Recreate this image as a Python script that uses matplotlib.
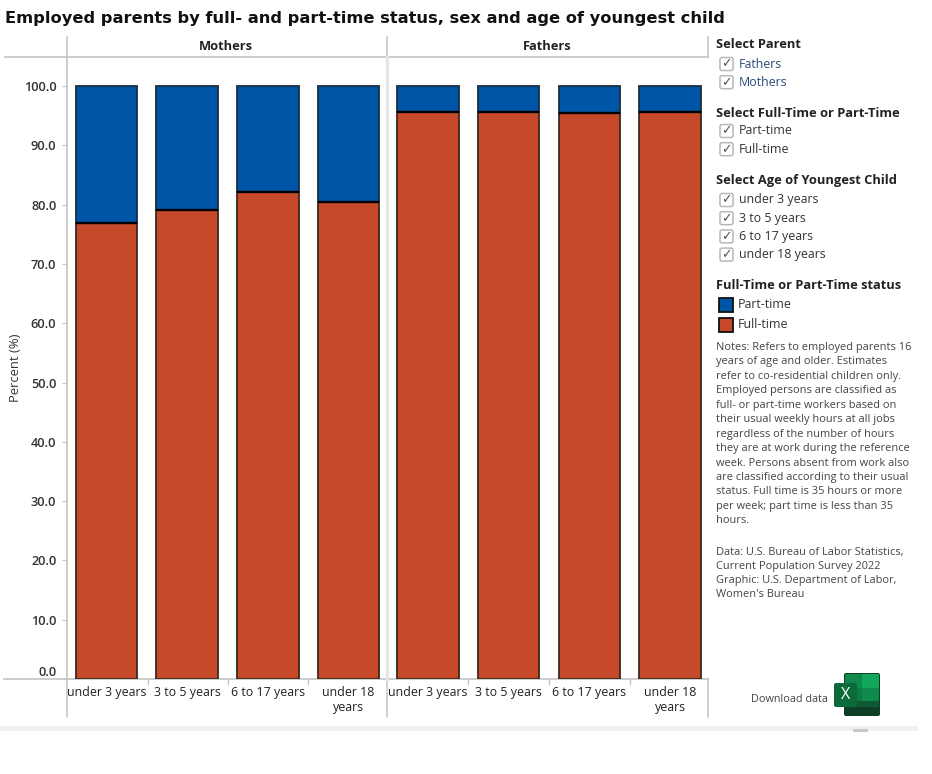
import matplotlib
matplotlib.use("Agg")
import matplotlib.pyplot as plt
from matplotlib.patches import Rectangle, FancyBboxPatch

plt.rcParams['font.family'] = ['Open Sans', 'DejaVu Sans']

# Data
ages = ["under 3 years", "3 to 5 years", "6 to 17 years", "under 18\nyears"]
mothers_full = [76.9, 79.1, 82.1, 80.4]
mothers_part = [23.1, 20.9, 17.9, 19.6]
fathers_full = [95.6, 95.6, 95.4, 95.6]
fathers_part = [4.4, 4.4, 4.6, 4.4]
yticks = [0, 10, 20, 30, 40, 50, 60, 70, 80, 90, 100]

parent_opts = ["Fathers", "Mothers"]
status_opts = ["Part-time", "Full-time"]
age_opts = ["under 3 years", "3 to 5 years", "6 to 17 years", "under 18 years"]

notes = ("Notes: Refers to employed parents 16\nyears of age and older. Estimates\n"
         "refer to co-residential children only.\nEmployed persons are classified as\n"
         "full- or part-time workers based on\ntheir usual weekly hours at all jobs\n"
         "regardless of the number of hours\nthey are at work during the reference\n"
         "week. Persons absent from work also\nare classified according to their usual\n"
         "status. Full time is 35 hours or more\nper week; part time is less than 35\nhours.")
source = ("Data: U.S. Bureau of Labor Statistics,\nCurrent Population Survey 2022\n"
          "Graphic: U.S. Department of Labor,\nWomen's Bureau")

BLUE = "#0056a6"
RED = "#c6492a"
LINE = "#c4c4c4"
W, H = 932, 774
BAR_W = 0.76

fig = plt.figure(figsize=(W/100, H/100), dpi=100)

# overlay in pixel coordinates for the dashboard furniture
bg = fig.add_axes([0, 0, 1, 1])
bg.set_xlim(0, W)
bg.set_ylim(H, 0)
bg.axis("off")


def panel(x0, x1, full, part):
    ax = fig.add_axes([x0/W, 1-679/H, (x1-x0)/W, (679-57)/H])
    pos = list(range(4))
    ax.bar(pos, full, width=BAR_W, color=RED, edgecolor="#3a2a20", linewidth=1.3)
    ax.bar(pos, part, width=BAR_W, bottom=full, color=BLUE, edgecolor="#1c2c40", linewidth=1.3)
    # black rule where the two segments meet
    ax.hlines(full, [p-BAR_W/2 for p in pos], [p+BAR_W/2 for p in pos], color="black", lw=1.7)
    ax.set_xlim(-0.5, 3.5)
    ax.set_ylim(0, 104.9)
    ax.set_xticks(pos)
    ax.set_xticklabels(ages, fontsize=8.9, color="#222222", linespacing=1.25)
    ax.tick_params(axis="x", length=0, pad=5)
    for s in ["top", "right", "bottom", "left"]:
        ax.spines[s].set_visible(False)
    ax.patch.set_alpha(0)
    return ax


ax1 = panel(66, 389, mothers_full, mothers_part)
ax2 = panel(387.5, 710.5, fathers_full, fathers_part)

ax1.set_yticks(yticks)
ax1.set_yticklabels([f"{v:.1f}" for v in yticks], fontsize=9.2, color="#333333", fontweight="semibold")
ax1.tick_params(axis="y", length=3, pad=4, color=LINE, width=0.8)
ax1.get_yticklabels()[0].set_verticalalignment("bottom")
ax1.set_ylabel("Percent (%)", fontsize=9.4, color="#333333", labelpad=1)
ax2.set_yticks([])

# Title and panel headers
bg.text(5, 18.5, "Employed parents by full- and part-time status, sex and age of youngest child",
        fontsize=11.7, fontweight="bold", family=["DejaVu Sans"], va="center", color="#111111")
bg.text(226, 46, "Mothers", fontsize=9.3, fontweight="bold", ha="center", va="center", color="#222222")
bg.text(547, 46, "Fathers", fontsize=9.3, fontweight="bold", ha="center", va="center", color="#222222")

# Frame lines
bg.plot([5, 708], [57, 57], color=LINE, lw=1.2)
bg.plot([4, 708], [679, 679], color=LINE, lw=1.2)
bg.plot([67, 67], [57, 679], color=LINE, lw=1.2)
for x in [67, 387, 708]:
    bg.plot([x, x], [37, 57], color=LINE, lw=1.1)
    bg.plot([x, x], [679, 717], color=LINE, lw=1.1)
bg.plot([387, 387], [57, 679], color="#e6e6e6", lw=2.5)
for x in [147.5, 228, 308, 468, 549, 630]:
    bg.plot([x, x], [679, 684], color=LINE, lw=1)
bg.add_patch(Rectangle((0, 725.5), 918, 5.5, color="#f0f0f0", lw=0))
bg.add_patch(Rectangle((853, 729), 15, 3, color="#c8c8c8", lw=0))


def checklist(title, y_title, items, y_first, color="#333333"):
    bg.text(716, y_title, title, fontsize=9.3, fontweight="bold", va="center", color="#222222")
    for i, item in enumerate(items):
        y = y_first + i*18.2
        bg.add_patch(FancyBboxPatch((720, y-6.5), 13, 13, boxstyle="round,pad=0,rounding_size=2",
                                    fc="white", ec="#b8b8b8", lw=1.1))
        bg.text(726.5, y, "\u2713", fontsize=9, family=["DejaVu Sans"], ha="center", va="center", color="#555555")
        bg.text(739, y, item, fontsize=8.9, va="center", color=color)


checklist("Select Parent", 44.5, parent_opts, 64, color="#2a4a78")
checklist("Select Full-Time or Part-Time", 113.5, status_opts, 131)
checklist("Select Age of Youngest Child", 180.5, age_opts, 200)

bg.text(716, 285.5, "Full-Time or Part-Time status", fontsize=9.3, fontweight="bold", va="center", color="#222222")
for y, lab, c in [(305, status_opts[0], BLUE), (324.5, status_opts[1], RED)]:
    bg.add_patch(Rectangle((719, y-7), 14, 14, fc=c, ec="#111111", lw=1.3))
    bg.text(737.5, y, lab, fontsize=8.9, va="center", color="#333333")

bg.text(716, 342, notes, fontsize=7.9, va="top", color="#444444", linespacing=1.43)
bg.text(716, 546.5, source, fontsize=7.9, va="top", color="#444444", linespacing=1.39)

# Download button
bg.text(751, 699, "Download data", fontsize=7.8, va="center", color="#444444")
bg.add_patch(FancyBboxPatch((844, 673), 36, 43, boxstyle="round,pad=0,rounding_size=2", fc="#0e3f26", ec="none"))
for y, h, cl, cr in [(674, 14, "#0f8a4c", "#12a85c"), (688, 13, "#0f7a42", "#0f8a4c")]:
    bg.add_patch(Rectangle((845, y), 17, h, color=cl, lw=0))
    bg.add_patch(Rectangle((862, y), 17, h, color=cr, lw=0))
bg.add_patch(Rectangle((845, 701), 34, 6, color="#0f5a34", lw=0))
bg.add_patch(FancyBboxPatch((834, 683), 23, 24, boxstyle="round,pad=0,rounding_size=2", fc="#0b6a3a", ec="none"))
bg.text(846, 695, "X", fontsize=11.5, color="white", ha="center", va="center")

fig.savefig("out.png", dpi=100)
